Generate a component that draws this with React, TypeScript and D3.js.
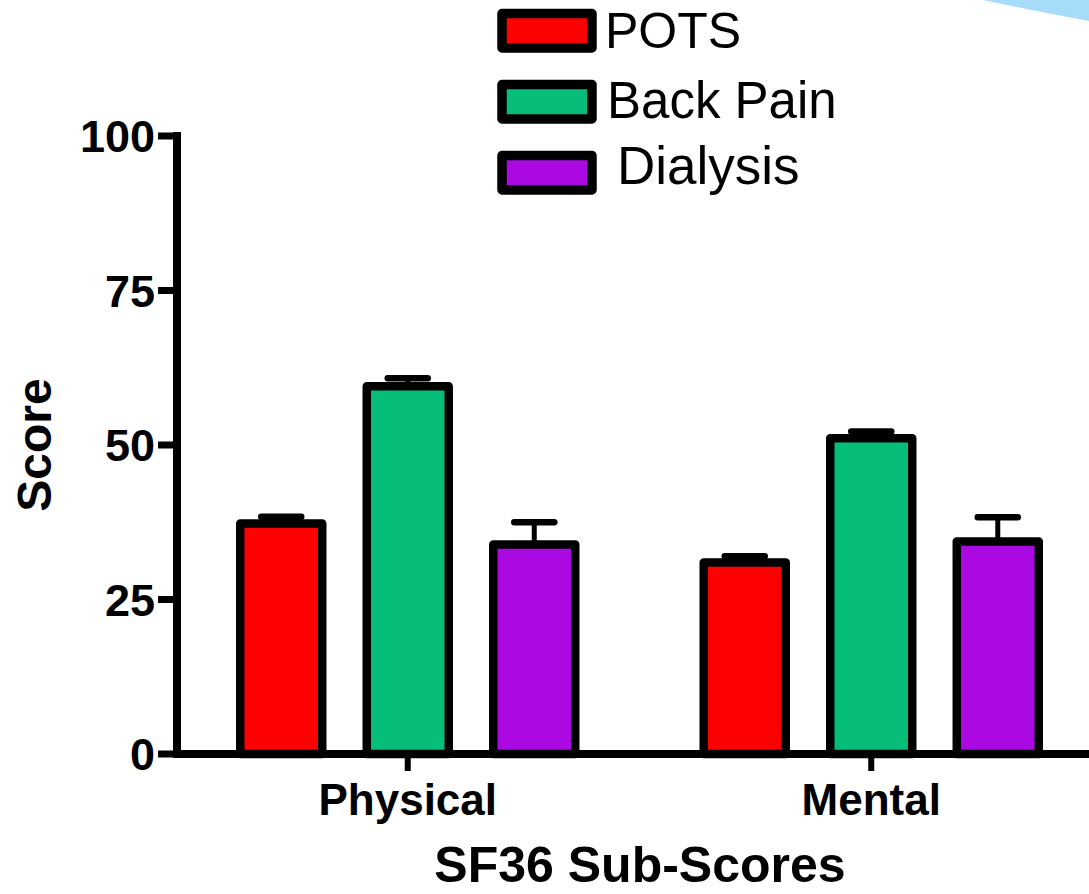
import React from "react";
import * as d3 from "d3";

const categories = ["Physical", "Mental"];
const seriesNames = ["POTS", "Back Pain", "Dialysis"];
const seriesColors = ["#ff0000", "#06be78", "#aa0ae1"];
const potsMean = [37.3, 31.0];
const potsErr = [1.1, 1.0];
const backPainMean = [59.5, 51.1];
const backPainErr = [1.3, 1.1];
const dialysisMean = [33.9, 34.4];
const dialysisErr = [3.6, 3.9];
const yTicks = [0, 25, 50, 75, 100];

const means = [potsMean, backPainMean, dialysisMean];
const errs = [potsErr, backPainErr, dialysisErr];

const W = 1089;
const H = 894;

export default function App() {
  const y = d3.scaleLinear().domain([0, 100]).range([754, 136]);
  const x0 = d3.scaleBand<string>().domain(categories).range([176, 1103]).padding(0);
  const x1 = d3
    .scaleBand<string>()
    .domain(seriesNames)
    .range([-167.5, 167.5])
    .paddingInner(0.352)
    .paddingOuter(0);
  const bw = x1.bandwidth();

  const legendY = [13.5, 84.5, 155.5];
  const legendTextX = [605, 607, 617];
  const legendBase = [48, 118, 184];
  const legendFont = [50, 51, 53];

  return (
    <svg
      width={W}
      height={H}
      style={{ position: "absolute", left: 0, top: 0, background: "#fff" }}
      fontFamily="'Liberation Sans', Arial, sans-serif"
    >
      <rect x={0} y={0} width={W} height={H} fill="#fff" />
      {/* decorative blue wedge */}
      <path d="M983,0 L1089,0 L1089,21 Q1040,12 983,0 Z" fill="#a6dcf9" />

      {/* error bars */}
      {categories.map((c, ci) =>
        seriesNames.map((s, si) => {
          const cx = (x0(c) as number) + x0.bandwidth() / 2 + (x1(s) as number) + bw / 2;
          const top = y(means[si][ci] + errs[si][ci]);
          return (
            <g key={`e-${c}-${s}`}>
              <line x1={cx} x2={cx} y1={y(means[si][ci])} y2={top} stroke="#000" strokeWidth={5} />
              <line
                x1={cx - 20}
                x2={cx + 20}
                y1={top}
                y2={top}
                stroke="#000"
                strokeWidth={6.5}
                strokeLinecap="round"
              />
            </g>
          );
        })
      )}

      {/* bars */}
      {categories.map((c, ci) =>
        seriesNames.map((s, si) => {
          const bx = (x0(c) as number) + x0.bandwidth() / 2 + (x1(s) as number);
          const v = means[si][ci];
          return (
            <rect
              key={`b-${c}-${s}`}
              x={bx}
              y={y(v)}
              width={bw}
              height={y(0) - y(v)}
              fill={seriesColors[si]}
              stroke="#000"
              strokeWidth={8.5}
              strokeLinejoin="round"
            />
          );
        })
      )}

      {/* y axis */}
      <line x1={177} x2={177} y1={132} y2={758} stroke="#000" strokeWidth={8} />
      {yTicks.map((t) => (
        <g key={`yt-${t}`}>
          <line x1={158} x2={177} y1={y(t)} y2={y(t)} stroke="#000" strokeWidth={7} />
          <text
            x={155}
            y={y(t)}
            dy="0.36em"
            textAnchor="end"
            fontSize={45}
            fontWeight="bold"
            fill="#000"
          >
            {t}
          </text>
        </g>
      ))}

      {/* x axis */}
      <line x1={173} x2={W} y1={754} y2={754} stroke="#000" strokeWidth={8} />
      {categories.map((c) => {
        const cx = (x0(c) as number) + x0.bandwidth() / 2;
        return (
          <g key={`xt-${c}`}>
            <line x1={cx} x2={cx} y1={754} y2={771} stroke="#000" strokeWidth={6} />
            <text x={cx} y={815} textAnchor="middle" fontSize={44} fontWeight="bold" fill="#000">
              {c}
            </text>
          </g>
        );
      })}

      {/* axis titles */}
      <text x={640} y={882} textAnchor="middle" fontSize={50} fontWeight="bold" fill="#000">
        SF36 Sub-Scores
      </text>
      <text
        transform="translate(51,445) rotate(-90)"
        textAnchor="middle"
        fontSize={48}
        fontWeight="bold"
        fill="#000"
      >
        Score
      </text>

      {/* legend */}
      {seriesNames.map((s, si) => (
        <g key={`lg-${s}`}>
          <rect
            x={502}
            y={legendY[si]}
            width={90}
            height={34.5}
            fill={seriesColors[si]}
            stroke="#000"
            strokeWidth={9.5}
            strokeLinejoin="round"
          />
          <text x={legendTextX[si]} y={legendBase[si]} fontSize={legendFont[si]} fill="#000">
            {s}
          </text>
        </g>
      ))}
    </svg>
  );
}
